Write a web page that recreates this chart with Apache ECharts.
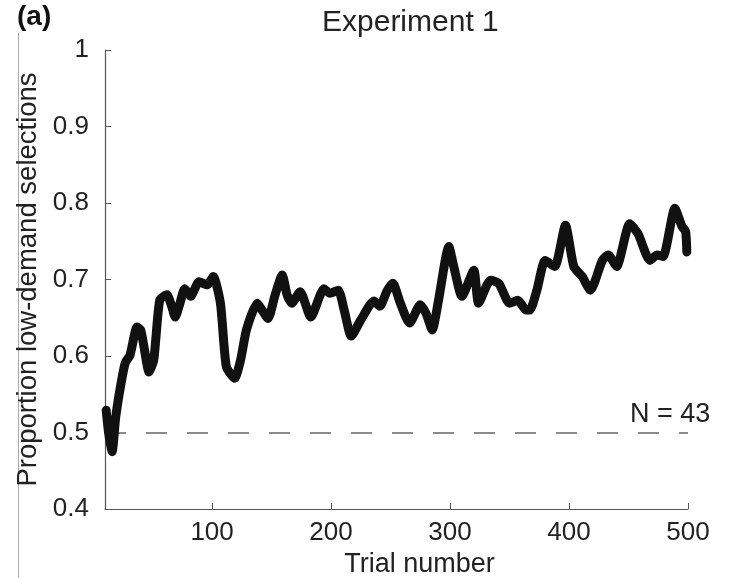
<!DOCTYPE html>
<html>
<head>
<meta charset="utf-8">
<script src="https://cdn.jsdelivr.net/npm/echarts@6/dist/echarts.min.js"></script>
<style>html,body{margin:0;padding:0;background:#fff;}#c{width:729px;height:578px;}</style>
</head>
<body>
<div id="c"></div>
<script>
// Trial number (x) and proportion of low-demand selections (y)
const trials = [11,13,16,19,23,27,31,37,40,43,47,51,56,62,66,69,73,77,82,89,96,101,107,112,119,124,129,138,142,147,153,159,163,167,174,183,194,199,206,211,217,225,236,241,247,252,258,266,275,280,285,290,299,303,310,320,324,334,341,350,357,364,367,373,380,388,397,404,411,418,428,433,440,451,458,468,474,479,489,495,498,499];
const values = [0.529,0.50,0.475,0.52,0.56,0.591,0.601,0.638,0.634,0.61,0.579,0.595,0.673,0.68,0.665,0.651,0.669,0.688,0.678,0.697,0.693,0.704,0.669,0.586,0.571,0.595,0.635,0.669,0.66,0.649,0.68,0.706,0.68,0.669,0.684,0.651,0.688,0.682,0.686,0.66,0.626,0.647,0.672,0.665,0.685,0.695,0.67,0.643,0.667,0.655,0.634,0.67,0.743,0.718,0.678,0.712,0.669,0.699,0.695,0.669,0.673,0.66,0.66,0.686,0.725,0.717,0.771,0.717,0.704,0.686,0.725,0.732,0.717,0.773,0.76,0.725,0.732,0.73,0.793,0.769,0.763,0.736];
const xTicks = [100,200,300,400,500];
const chanceLevel = 0.5;
const xRange = [10, 500];
const yRange = [0.4, 1];
const titleText = 'Experiment 1';
const panelLabel = '(a)';
const nLabel = 'N = 43';

const FONT = '"Liberation Sans", Arial, Helvetica, sans-serif';
const chart = echarts.init(document.getElementById('c'), null, {renderer: 'canvas'});
chart.setOption({
  backgroundColor: '#fff',
  animation: false,
  title: {
    text: titleText, left: 317, top: 3,
    textStyle: {fontFamily: FONT, fontSize: 30, fontWeight: 'normal', color: '#222'}
  },
  grid: {left: 105, right: 41, top: 50, bottom: 69, containLabel: false, outerBoundsMode: 'none'},
  xAxis: {
    type: 'value', min: xRange[0], max: xRange[1],
    name: 'Trial number', nameLocation: 'middle', nameGap: 42,
    nameTextStyle: {fontFamily: FONT, fontSize: 27, color: '#222', padding: [0, 0, 0, 46]},
    axisLine: {show: true, lineStyle: {color: '#555', width: 1.2}},
    axisTick: {show: true, inside: true, length: 6, customValues: xTicks, lineStyle: {color: '#555'}},
    axisLabel: {customValues: xTicks, fontFamily: FONT, fontSize: 26, color: '#222', margin: 11},
    splitLine: {show: false}
  },
  yAxis: {
    type: 'value', min: yRange[0], max: yRange[1], interval: 0.1,
    name: 'Proportion low-demand selections', nameLocation: 'middle', nameGap: 60,
    nameTextStyle: {fontFamily: FONT, fontSize: 27.5, color: '#222'},
    axisLine: {show: true, lineStyle: {color: '#555', width: 1.2}},
    axisTick: {show: true, inside: true, length: 6, lineStyle: {color: '#555'}},
    axisLabel: {fontFamily: FONT, fontSize: 26, color: '#222', margin: 16,
      formatter: v => (Math.abs(v - 1) < 1e-9 ? '1' : v.toFixed(1))},
    splitLine: {show: false}
  },
  series: [{
    type: 'line',
    data: trials.map((t, i) => [t, values[i]]),
    showSymbol: false,
    smooth: 0.2,
    lineStyle: {color: '#111', width: 9, cap: 'round', join: 'round'},
    z: 3,
    markLine: {
      silent: true, symbol: 'none', animation: false,
      label: {show: false},
      lineStyle: {color: '#666', width: 1.5, type: [21, 20]},
      data: [[{coord: [xRange[0], chanceLevel]}, {coord: [xRange[1], chanceLevel]}]],
      z: 1
    }
  }],
  graphic: [
    {type: 'text', left: 17, top: 3, style: {text: panelLabel, fontFamily: FONT, fontSize: 28, fontWeight: 'bold', fill: '#111'}},
    {type: 'text', left: 630, top: 401, style: {text: nLabel, fontFamily: FONT, fontSize: 27, fill: '#222'}},
    {type: 'line', shape: {x1: 18.5, y1: 33, x2: 18.5, y2: 578}, style: {stroke: '#aaa', lineWidth: 1}}
  ]
});
</script>
</body>
</html>
